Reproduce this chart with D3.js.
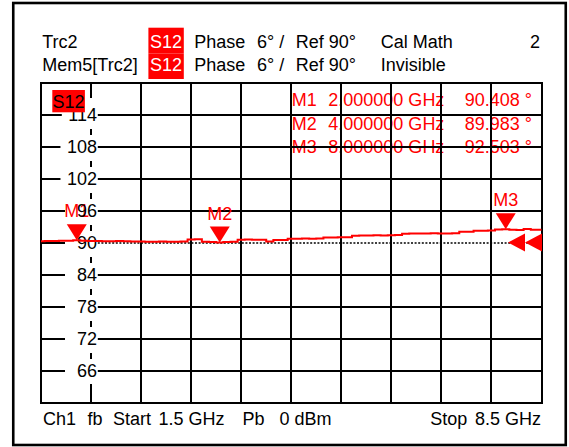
<!DOCTYPE html>
<html><head><meta charset="utf-8">
<script src="https://cdn.jsdelivr.net/npm/d3@7"></script>
<style>
body{margin:0;background:#fff}
svg{display:block;font-family:"Liberation Sans",Arial,sans-serif;font-size:18px}
</style>
</head><body>
<svg id="c" width="569" height="447"></svg>
<script>
// ---- data ----
const frequencies = [1.5,1.6,1.7,1.8,1.9,2.0,2.1,2.2,2.3,2.4,2.5,2.6,2.7,2.8,2.9,3.0,3.1,3.2,3.3,3.4,
  3.5,3.6,3.7,3.8,3.9,4.0,4.1,4.2,4.3,4.4,4.5,4.6,4.7,4.8,4.9,5.0,5.1,5.2,5.3,5.4,
  5.5,5.6,5.7,5.8,5.9,6.0,6.1,6.2,6.3,6.4,6.5,6.6,6.7,6.8,6.9,7.0,7.1,7.2,7.3,7.4,
  7.5,7.6,7.7,7.8,7.9,8.0,8.1,8.2,8.3,8.4,8.5];
const phases = [90.25,90.3,90.3,90.35,90.35,90.4,90.35,90.3,90.3,90.25,90.25,90.3,90.25,90.2,90.2,90.15,90.15,90.2,90.15,90.15,
  90.2,90.55,90.6,90.15,90.1,89.98,90.1,90.15,90.5,90.55,90.5,90.5,90.2,90.45,90.45,90.7,90.7,90.75,90.7,90.75,
  90.95,90.95,91.0,91.0,91.25,91.3,91.3,91.35,91.3,91.35,91.4,91.65,91.7,91.7,91.7,91.75,91.7,91.7,91.75,92.0,
  92.0,92.2,92.2,92.25,92.45,92.5,92.4,92.35,92.55,92.4,92.4];
const yTicks = [66,72,78,84,90,96,102,108,114];
const markerNames = ["M1","M2","M3"];
const markerFreqs = [2.0,4.0,8.0];
const markerValues = [90.408,89.983,92.503];
const markerFreqLabels = ["2.000000 GHz","4.000000 GHz","8.000000 GHz"];
const markerValueLabels = ["90.408 °","89.983 °","92.503 °"];
const refLevel = 90;
const startFreq = 1.5, stopFreq = 8.5, yMin = 60, yMax = 120, divisions = 10;

// ---- drawing ----
const RED = "#ff0000";
const svg = d3.select("#c");
const x = d3.scaleLinear().domain([startFreq, stopFreq]).range([41, 541.5]);
const y = d3.scaleLinear().domain([yMin, yMax]).range([402.5, 82.5]);
const sx = v => Math.round(x(v));
const sy = v => Math.round(y(v));

// frame
svg.append("rect").attr("x",13.25).attr("y",3).attr("width",552.5).attr("height",442)
  .attr("fill","#fff").attr("stroke","#000").attr("stroke-width",2.6);

// header
const hdr = svg.append("g");
hdr.append("rect").attr("x",148.4).attr("y",27.7).attr("width",35.4).attr("height",25.7).attr("fill",RED);
hdr.append("rect").attr("x",148.4).attr("y",53.4).attr("width",35.4).attr("height",25.6).attr("fill",RED);
const htxt = (t,xx,yy,opt={}) => hdr.append("text").attr("x",xx).attr("y",yy)
  .attr("fill",opt.fill||"#000").attr("text-anchor",opt.anchor||"start").text(t);
htxt("Trc2",42.3,48);
htxt("S12",166.1,48,{fill:"#fff",anchor:"middle"});
htxt("Phase",194.3,48); htxt("6° /",257,48); htxt("Ref 90°",295.7,48);
htxt("Cal Math",380.7,48); htxt("2",540,48,{anchor:"end"});
htxt("Mem5[Trc2]",42.3,71);
htxt("S12",166.1,71,{fill:"#fff",anchor:"middle"});
htxt("Phase",194.3,71); htxt("6° /",257,71); htxt("Ref 90°",295.7,71);
htxt("Invisible",380.7,71);

// marker readout (drawn under grid)
const ro = svg.append("g").attr("fill",RED);
markerNames.forEach((m,i)=>{
  const by = 106 + i*23.5;
  ro.append("text").attr("x",291.7).attr("y",by).text(m);
  ro.append("text").attr("x",328.3).attr("y",by).text(markerFreqLabels[i]);
  ro.append("text").attr("x",532).attr("y",by).attr("text-anchor","end").text(markerValueLabels[i]);
});

// y-axis labels via d3 axis (measure first)
const vStep = (stopFreq-startFreq)/divisions;
const xLabelCol = sx(startFreq + vStep);
const axisG = svg.append("g").attr("transform",`translate(${xLabelCol+6},0)`)
  .call(d3.axisLeft(y).tickValues(yTicks).tickSizeInner(0).tickSizeOuter(0).tickPadding(0));
axisG.select(".domain").remove();
axisG.attr("font-family",null).attr("font-size",null);
axisG.selectAll(".tick text").attr("fill","#000").attr("dy","0.36em");
const boxes = {};
axisG.selectAll(".tick").each(function(d){
  const b = d3.select(this).select("text").node().getBBox();
  boxes[d] = {x0: b.x + xLabelCol + 6, x1: b.x + b.width + xLabelCol + 6};
});

// grid
const grid = svg.insert("g", function(){ return axisG.node(); })
  .attr("stroke","#000").attr("stroke-width",2).attr("fill","none");
d3.range(0, divisions+1).forEach(i=>{
  const xv = sx(startFreq + i*vStep);
  if (i===1) return;
  grid.append("line").attr("x1",xv).attr("x2",xv).attr("y1",sy(yMax)-1).attr("y2",sy(yMin)+1);
});
// dashed label column
const sorted = yTicks.slice().sort((a,b)=>b-a);
grid.append("line").attr("x1",xLabelCol).attr("x2",xLabelCol).attr("y1",sy(yMax)).attr("y2",sy(sorted[0])-17);
sorted.slice(0,-1).forEach(v=>{
  grid.append("line").attr("x1",xLabelCol).attr("x2",xLabelCol).attr("y1",sy(v)+14).attr("y2",sy(v)+20);
});
grid.append("line").attr("x1",xLabelCol).attr("x2",xLabelCol).attr("y1",sy(sorted[sorted.length-1])+13).attr("y2",sy(yMin));
// horizontal lines
d3.range(yMin, yMax+0.001, (yMax-yMin)/divisions).forEach(v=>{
  const yy = sy(v);
  if (boxes[v]) {
    const b = boxes[v];
    grid.append("line").attr("x1",sx(startFreq)).attr("x2",Math.min(65,b.x0-6.5)).attr("y1",yy).attr("y2",yy);
    const r = grid.append("line").attr("x1",b.x1+0.8).attr("x2",sx(stopFreq)).attr("y1",yy).attr("y2",yy);
    if (v===refLevel) r.attr("stroke-dasharray","2,1.6").attr("stroke-width",1.5);
  } else {
    grid.append("line").attr("x1",sx(startFreq)-1).attr("x2",sx(stopFreq)+1).attr("y1",yy).attr("y2",yy);
  }
});

// marker labels (under axis labels)
const ml = svg.insert("g", function(){ return axisG.node(); }).attr("fill",RED).attr("text-anchor","middle");
markerNames.forEach((m,i)=>{
  ml.append("text").attr("x",x(markerFreqs[i])).attr("y",y(markerValues[i])-23).text(m);
});

// S12 trace label box
svg.append("rect").attr("x",52.3).attr("y",90).attr("width",32.6).attr("height",22.3).attr("fill",RED);
svg.append("text").attr("x",68.6).attr("y",107.6).attr("text-anchor","middle").attr("fill","#000").text("S12");

// trace
const pts = frequencies.map((f,i)=>[f, phases[i]]);
svg.append("path").datum(pts)
  .attr("d", d3.line().x(d=>x(d[0])).y(d=>y(d[1])).curve(d3.curveStep))
  .attr("fill","none").attr("stroke",RED).attr("stroke-width",2);

// marker triangles
markerNames.forEach((m,i)=>{
  const tx = x(markerFreqs[i]), ty = y(markerValues[i]);
  svg.append("path").attr("d",`M${tx-10},${ty-16}L${tx+10},${ty-16}L${tx},${ty}Z`).attr("fill",RED);
});

// reference position arrows
const ry = y(refLevel);
[x(stopFreq)-33.5, x(stopFreq)-16.5].forEach(tip=>{
  svg.append("path").attr("d",`M${tip},${ry}L${tip+17},${ry-9}L${tip+17},${ry+9}Z`).attr("fill",RED);
});

// footer
const ft = svg.append("g");
const ftxt = (t,xx)=>ft.append("text").attr("x",xx).attr("y",425).text(t);
ftxt("Ch1",43); ftxt("fb",87.6); ftxt("Start",113); ftxt("1.5 GHz",158.5);
ftxt("Pb",242.5); ftxt("0 dBm",279.4); ftxt("Stop",430.3);
ft.append("text").attr("x",541).attr("y",425).attr("text-anchor","end").text("8.5 GHz");
</script>
</body></html>
